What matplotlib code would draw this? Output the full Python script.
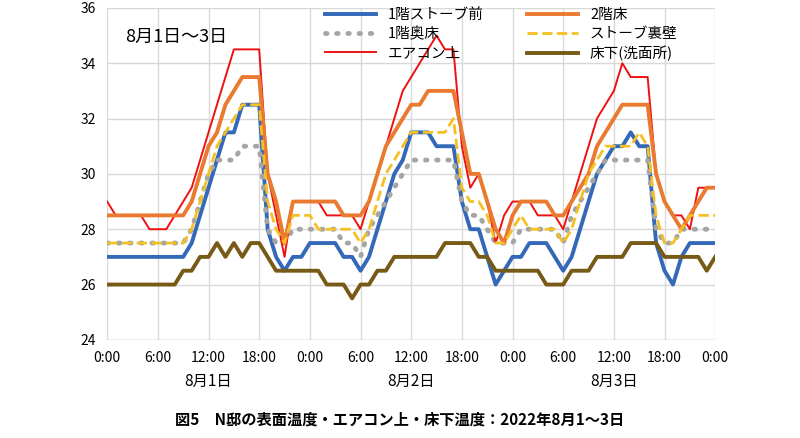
import matplotlib
matplotlib.use("Agg")
import matplotlib.pyplot as plt
import numpy as np

plt.rcParams["font.family"] = ["Noto Sans CJK JP", "DejaVu Sans"]

hours = list(range(73))
red = [29,28.5,28.5,28.5,28.5,28,28,28,28.5,29,
       29.5,30.5,31.5,32.5,33.5,34.5,34.5,34.5,34.5,
       30,28.5,27,29,29,
       29,29,28.5,28.5,28.5,28.5,28,29,30,31,32,33,33.5,34,34.5,35,34.5,34.5,
       31,29.5,30,29,27.5,28.5,
       29,29,29,28.5,28.5,28.5,28,29,30,31,32,32.5,33,34,33.5,33.5,
       33.5,30,29,28.5,28.5,28,29.5,29.5,29.5]
orange = [28.5]*10 + [29,30,31,31.5,32.5,33,33.5,33.5,33.5, 30,29,27.5,29,29,
       29,29,29,29,28.5,28.5,28.5,29,30,31,31.5,32,32.5,32.5,33,33,33,33,
       31.5,30,30,29,28,27.5,
       28.5,29,29,29,29,28.5,28.5,29,29.5,30,31,31.5,32,32.5,32.5,32.5,
       32.5,30,29,28.5,28,28.5,29,29.5,29.5]
blue = [27]*10 + [27.5,28.5,29.5,30.5,31.5,31.5,32.5,32.5,32.5, 28,27,26.5,27,27,
       27.5,27.5,27.5,27.5,27,27,26.5,27,28,29,30,30.5,31.5,31.5,31.5,31,31,31,
       29,28,28,27,26,26.5,
       27,27,27.5,27.5,27.5,27,26.5,27,28,29,30,30.5,31,31,31.5,31,
       31,27.5,26.5,26,27,27.5,27.5,27.5,27.5]
gray = [27.5]*10 + [28,29,30,30.5,30.5,30.5,31,31,31, 28,27.5,27.5,28,28,
       28,28,28,28,27.5,27.5,27,28,28.5,29,29.5,30,30.5,30.5,30.5,30.5,30.5,30.5,
       29,28.5,28.5,28,27.5,27.5,
       27.5,28,28,28,28,28,27.5,28.5,29,29.5,30,30.5,30.5,30.5,30.5,30.5,
       30.5,28,27.5,27.5,28,28,28,28,28]
yellow = [27.5]*10 + [28,29,30,31,31.5,32,32.5,32.5,32.5, 29,28,27.5,28.5,28.5,
       28.5,28,28,28,28,28,27.5,28,29,30,30.5,31,31.5,31.5,31.5,31.5,31.5,32,
       29.5,29,29,28.5,27.5,27.5,
       28,28.5,28,28,28,28,27.5,28,29,30,30.5,31,31,31,31,31.5,
       31,28.5,27.5,27.5,28,28.5,28.5,28.5,28.5]
brown = [26]*9 + [26.5,26.5,27,27,27.5,27,27.5,27,27.5,27.5,27,26.5,26.5,26.5,26.5,
       26.5,26.5,26,26,26,25.5,26,26,26.5,26.5,27,27,27,27,27,27,27.5,27.5,27.5,27.5,
       27,27,26.5,26.5,
       26.5,26.5,26.5,26.5,26,26,26,26.5,26.5,26.5,27,27,27,27,27.5,27.5,
       27.5,27.5,27,27,27,27,27,26.5,27]
series = [
    ("1階ストーブ前", blue, "#3468b8", "-", 2.8),
    ("1階奥床", gray, "#a5a5a5", ":", 3.5),
    ("エアコン上", red, "#ee1111", "-", 1.4),
    ("2階床", orange, "#ea7a30", "-", 2.8),
    ("ストーブ裏壁", yellow, "#f5c023", "--", 2.0),
    ("床下(洗面所)", brown, "#765a16", "-", 2.8),
]
tick_labels = ["0:00","6:00","12:00","18:00"]*3 + ["0:00"]
day_labels = ["8月1日","8月2日","8月3日"]

fig = plt.figure(figsize=(8, 4.38), dpi=100)
ax = fig.add_axes([0.134, 0.224, 0.76, 0.758])
for name, vals, c, ls, lw in series:
    assert len(vals) == 73, (name, len(vals))
    if ls == ":":
        ax.plot(hours, vals, color=c, lw=lw, ls=(0, (0.3, 2.0)), dash_capstyle="round", label=name)
    else:
        ax.plot(hours, vals, color=c, lw=lw, ls=ls, label=name)
ax.set_xlim(0, 72)
ax.set_ylim(24, 36)
ax.set_xticks(range(0, 73, 6))
ax.set_xticklabels(tick_labels, fontsize=10)
ax.set_yticks(range(24, 37, 2))
ax.tick_params(axis="x", labelsize=10, length=0, pad=8)
ax.tick_params(axis="y", labelsize=10, length=0, pad=8)
ax.grid(True, color="#d9d9d9", lw=1)
for s in ax.spines.values():
    s.set_visible(False)
ax.axhline(24, color="#bfbfbf", lw=1)
for i, d in enumerate(day_labels):
    ax.text(12 + 24*i, -0.1, d, transform=ax.get_xaxis_transform(), ha="center", va="top", fontsize=11)
ax.text(0.03, 0.94, "8月1日〜3日", transform=ax.transAxes, fontsize=13, va="top")
ax.legend(ncol=2, loc="upper right", bbox_to_anchor=(0.96, 1.04), frameon=False,
          fontsize=10.5, handlelength=3.5, labelspacing=0.35, columnspacing=3.0)
fig.text(0.5, 0.03, "図5　N邸の表面温度・エアコン上・床下温度：2022年8月1～3日",
         ha="center", fontsize=11, fontweight="bold")
fig.savefig("out.png", dpi=100)
